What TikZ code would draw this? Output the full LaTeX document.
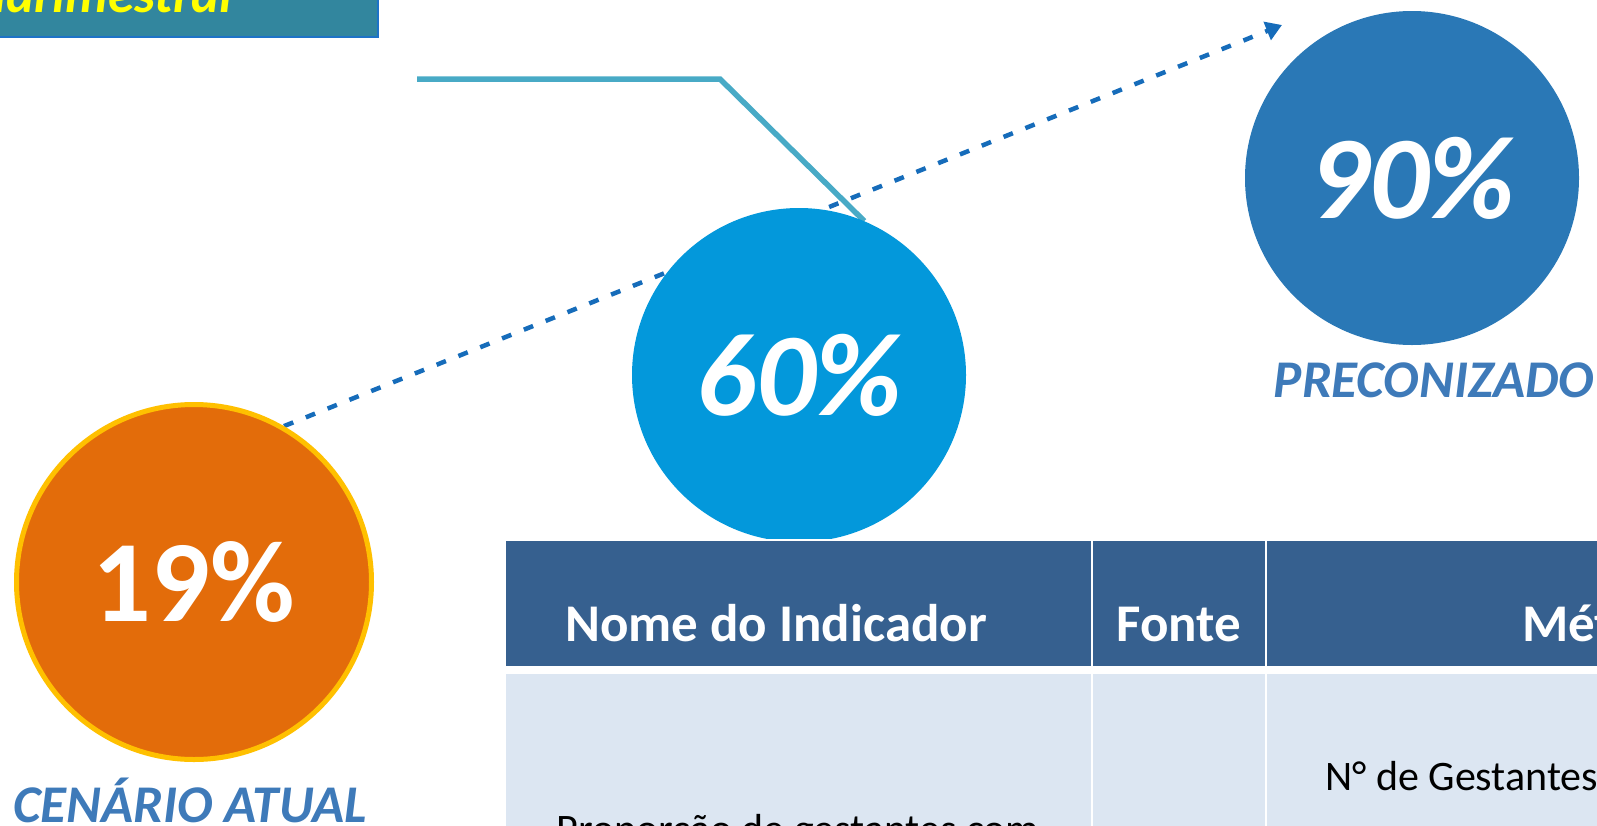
\documentclass[tikz,border=0pt]{standalone}
\usepackage{fontspec}
\setmainfont{Carlito}
\usetikzlibrary{arrows.meta}
\definecolor{boxteal}{RGB}{50,134,158}
\definecolor{boxedge}{RGB}{30,115,200}
\definecolor{ytext}{RGB}{255,255,0}
\definecolor{tealline}{RGB}{72,170,198}
\definecolor{dotblue}{RGB}{22,108,186}
\definecolor{orangefill}{RGB}{227,108,10}
\definecolor{ringgold}{RGB}{255,192,0}
\definecolor{cyanfill}{RGB}{3,152,219}
\definecolor{bluefill}{RGB}{42,120,182}
\definecolor{labelblue}{RGB}{62,122,185}
\definecolor{headblue}{RGB}{54,96,143}
\definecolor{bodyblue}{RGB}{220,230,242}
\pgfdeclarelayer{bg}
\pgfsetlayers{bg,main}
\begin{document}
\begin{tikzpicture}[x=1pt,y=-1pt,
  bubble/.style={circle, inner sep=0pt, minimum size=334pt, text=white,
    font=\fontsize{118}{120}\selectfont\bfseries\itshape},
  caption/.style={inner sep=0pt, text=labelblue, anchor=base,
    font=\fontsize{53}{60}\selectfont\bfseries\itshape},
  headtxt/.style={inner sep=0pt, text=white, anchor=base west,
    font=\fontsize{53}{60}\selectfont\bfseries},
  bodytxt/.style={inner sep=0pt, text=black, anchor=base west,
    font=\fontsize{42}{48}\selectfont},
  hcell/.style={fill=headblue},
  bcell/.style={fill=bodyblue},
  tealconn/.style={tealline, line width=5.5pt},
  dotconn/.style={dotblue, line width=4.5pt, dash pattern=on 10pt off 13.5pt,
    -{Triangle[length=16pt,width=19pt]}},
]
\useasboundingbox (0,0) rectangle (1597,825);
\clip (0,0) rectangle (1597,825);

% title box (cut by the top-left corner)
\fill[boxteal] (-10,-10) rectangle (378,37);
\draw[boxedge, line width=2.5pt] (378,-10) -- (378,37) -- (-10,37);
\node[inner sep=0pt, anchor=base east, text=ytext,
  font=\fontsize{53}{60}\selectfont\bfseries\itshape] (titletxt) at (233,12.7) {Quadrimestral};

% circles
\node[bubble, fill=orangefill, draw=ringgold, line width=5pt, minimum size=355pt,
  font=\fontsize{116}{120}\selectfont\bfseries] (c19) at (194,582) {19\%};
\begin{scope}
  \clip (0,0) rectangle (1597,538);
  \node[bubble, fill=cyanfill] (c60) at (799,375) {60\%};
\end{scope}
\node[bubble, fill=bluefill] (c90) at (1412,178) {90\%};

\node[caption] (lbl19) at (190,822) {CENÁRIO ATUAL};
\node[caption] (lbl90) at (1434,397) {PRECONIZADO};

% connectors
\coordinate (tstart) at (417,79);
\coordinate (tcorner) at (720,79);
\coordinate (tip) at (1282,25);
\begin{pgfonlayer}{bg}
  \draw[tealconn] (tstart) -- (tcorner) -- (c60.67);
  \draw[dotconn] (c19.60) -- (tip);
\end{pgfonlayer}

% table
\fill[hcell] (506,541) rectangle (1091,666);
\fill[hcell] (1093,541) rectangle (1265,666);
\fill[hcell] (1267,541) rectangle (1610,666);
\fill[bcell] (506,674) rectangle (1091,840);
\fill[bcell] (1093,674) rectangle (1265,840);
\fill[bcell] (1267,674) rectangle (1610,840);

\node[headtxt] (h1) at (565,641) {Nome do Indicador};
\node[headtxt, anchor=base] (h2) at (1179,641) {Fonte};
\node[headtxt] (h3) at (1522,641) {Método};
\node[bodytxt] (b3) at (1325,790.7) {N° de Gestantes};
\node[bodytxt, anchor=base] (b1) at (798,843) {Proporção de gestantes com};
\end{tikzpicture}
\end{document}
